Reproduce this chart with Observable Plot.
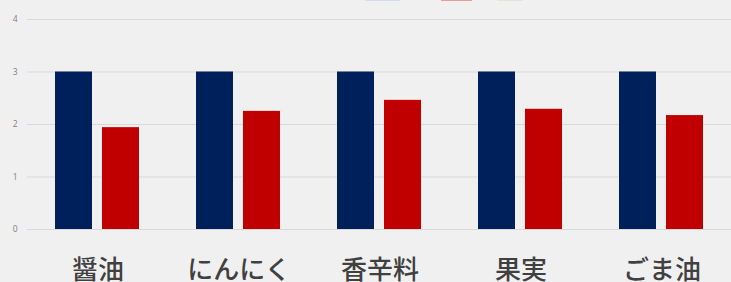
<!DOCTYPE html>
<html>
<head>
<meta charset="utf-8">
<script src="https://cdn.jsdelivr.net/npm/d3@7"></script>
<script src="https://cdn.jsdelivr.net/npm/@observablehq/plot@0.6"></script>
<style>
  html, body { margin: 0; padding: 0; background: #f0f0f0; }
  #wrap { position: relative; width: 731px; height: 282px; overflow: hidden; }
  #chart svg { display: block; background: #f0f0f0; }
  #legend { position: absolute; top: 0; left: 0; width: 731px; height: 2px; }
  #legend span { position: absolute; top: 0; height: 1px; }
</style>
</head>
<body>
<div id="wrap">
  <div id="chart"></div>
  <div id="legend"></div>
</div>
<script>
const categories = ["醤油", "にんにく", "香辛料", "果実", "ごま油"];
const seriesNames = ["A", "B"];
const seriesA = [3.0, 3.0, 3.0, 3.0, 3.0];
const seriesB = [1.94, 2.25, 2.46, 2.29, 2.17];
const yTicks = [0, 1, 2, 3, 4];
const colors = ["#00205b", "#c00000"];
const legendColors = ["#d2def0", "#ec9a9a", "#e4e4dc"];

const rows = [];
categories.forEach((c, i) => {
  rows.push({category: c, series: seriesNames[0], value: seriesA[i]});
  rows.push({category: c, series: seriesNames[1], value: seriesB[i]});
});

const chart = Plot.plot({
  width: 731,
  height: 282,
  marginLeft: 26,
  marginRight: -2,
  marginTop: 19,
  marginBottom: 53,
  style: {background: "#f0f0f0", overflow: "visible"},
  fx: {domain: categories, padding: 0, label: null},
  x: {domain: seriesNames, paddingInner: 0.208, paddingOuter: 0.577, axis: null},
  y: {domain: [0, 4], axis: null},
  color: {domain: seriesNames, range: colors},
  marks: [
    Plot.ruleY(yTicks, {stroke: "#d9d9d9", strokeWidth: 1}),
    Plot.barY(rows, {fx: "category", x: "series", y: "value", fill: "series"}),
    Plot.axisY(yTicks, {
      facetAnchor: "left",
      tickSize: 0, tickPadding: 10, fontSize: 8.5, fill: "#7f7f7f",
      tickFormat: d3.format("d"),
      fontFamily: "Open Sans, sans-serif", label: null
    }),
    Plot.axisFx({
      anchor: "bottom", tickSize: 0, tickPadding: 31, fontSize: 26, fontWeight: 500,
      fill: "#404040", fontFamily: "Noto Sans CJK JP, sans-serif", label: null
    })
  ]
});
document.getElementById("chart").appendChild(chart);

// cut-off legend swatches visible at the very top edge
const legendPos = [[365, 35], [441, 31], [497, 26]];
const legend = document.getElementById("legend");
legendColors.forEach((c, i) => {
  const s = document.createElement("span");
  s.style.left = legendPos[i][0] + "px";
  s.style.width = legendPos[i][1] + "px";
  s.style.background = c;
  legend.appendChild(s);
});
</script>
</body>
</html>
